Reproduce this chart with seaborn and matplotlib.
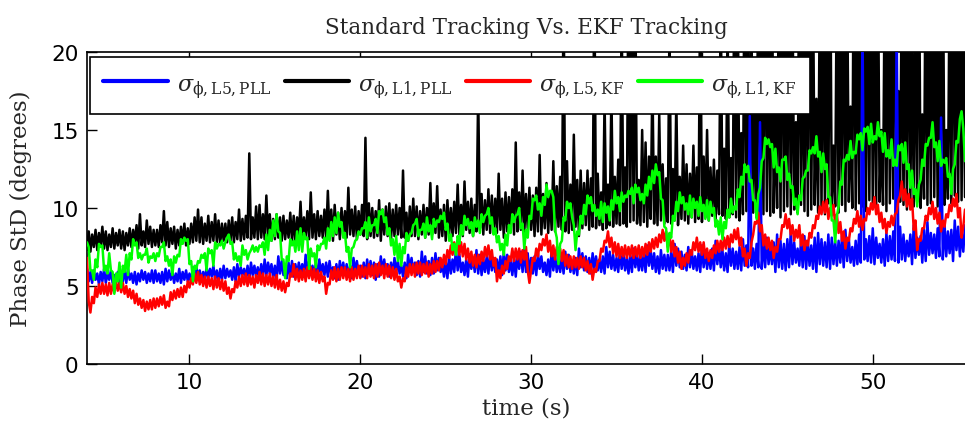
import numpy as np
import pandas as pd
import matplotlib
matplotlib.use("Agg")
import matplotlib.pyplot as plt
from matplotlib.lines import Line2D
import seaborn as sns

# Sampling of the phase-std estimates (seconds)
T0 = 4.0
DT = 0.1

# Phase standard deviation (degrees), one value per sample, 20 samples per row
sigma_l5_pll = [
    6.1, 5.3, 5.9, 5.2, 6.0, 5.4, 5.8, 5.1, 5.9, 5.3, 6.1, 5.2, 5.8, 5.4, 6.0, 5.2, 5.7, 5.3, 5.9, 5.1,
    5.9, 5.3, 6.0, 5.2, 6.1, 5.4, 5.8, 5.2, 5.9, 5.1, 5.8, 5.3, 6.0, 5.4, 5.9, 5.2, 5.8, 5.3, 6.0, 5.2,
    6.0, 5.3, 5.8, 5.2, 5.9, 5.1, 6.1, 5.3, 6.0, 5.4, 5.9, 5.2, 5.8, 5.3, 6.1, 5.2, 5.9, 5.4, 6.0, 5.3,
    5.8, 5.2, 6.2, 5.4, 6.3, 5.5, 6.0, 5.3, 5.9, 5.4, 6.2, 5.5, 6.1, 5.6, 6.3, 5.4, 6.0, 5.3, 6.1, 5.4,
    6.3, 5.5, 6.1, 5.6, 6.0, 5.4, 6.2, 5.3, 6.4, 5.6, 6.2, 5.7, 6.1, 5.5, 6.3, 5.4, 6.5, 5.7, 6.3, 5.6,
    6.2, 5.5, 6.4, 5.6, 6.7, 5.7, 6.5, 5.8, 6.4, 5.5, 6.3, 5.4, 6.9, 5.8, 6.6, 5.7, 6.3, 5.5, 6.5, 5.6,
    6.6, 5.6, 6.4, 5.7, 6.5, 5.8, 6.4, 5.6, 7.0, 5.9, 6.6, 5.8, 6.3, 5.6, 6.5, 5.5, 6.7, 5.8, 6.4, 5.7,
    6.5, 5.6, 6.6, 5.7, 6.2, 5.5, 6.4, 5.4, 6.6, 5.8, 6.5, 5.7, 6.4, 5.6, 6.3, 5.5, 6.8, 5.9, 6.6, 5.8,
    6.3, 5.6, 6.5, 5.5, 6.7, 5.8, 6.6, 5.7, 6.5, 5.4, 6.4, 5.6, 6.9, 5.9, 6.7, 5.8, 6.4, 5.6, 6.5, 5.7,
    6.8, 5.9, 6.6, 5.8, 6.3, 5.6, 6.5, 5.5, 7.0, 6.0, 6.8, 5.9, 6.5, 5.7, 6.6, 5.6, 7.2, 5.9, 6.9, 5.8,
    6.6, 5.7, 6.8, 5.8, 7.1, 6.0, 6.8, 5.9, 6.4, 5.6, 6.6, 5.5, 6.9, 5.8, 6.7, 5.9, 7.4, 6.0, 7.0, 5.9,
    6.5, 5.7, 6.7, 5.6, 7.0, 6.1, 6.8, 5.9, 7.3, 5.8, 7.0, 5.7, 6.7, 5.9, 6.9, 5.8, 7.1, 6.0, 6.8, 5.9,
    6.7, 5.8, 6.9, 5.7, 7.2, 6.0, 7.0, 5.9, 6.6, 5.7, 6.8, 5.6, 7.0, 6.1, 7.2, 5.9, 7.4, 5.9, 7.1, 5.8,
    6.8, 5.8, 6.9, 5.7, 7.1, 6.1, 6.9, 5.9, 6.5, 5.7, 6.7, 5.6, 7.3, 6.0, 7.0, 5.9, 6.7, 5.9, 6.9, 5.8,
    7.2, 6.1, 7.0, 5.9, 6.6, 5.8, 6.8, 5.7, 7.4, 6.2, 7.1, 6.0, 6.9, 5.9, 6.8, 5.8, 7.1, 6.1, 6.9, 6.0,
    6.7, 5.9, 6.9, 5.8, 7.5, 6.2, 7.2, 6.1, 7.0, 6.0, 6.8, 5.9, 7.3, 6.1, 7.1, 6.0, 6.8, 5.8, 7.0, 5.9,
    7.4, 6.2, 7.1, 6.0, 6.9, 6.0, 7.2, 5.9, 7.6, 6.3, 7.3, 6.1, 7.1, 5.9, 6.9, 5.8, 7.3, 6.1, 7.0, 6.0,
    7.0, 6.0, 7.2, 5.9, 7.7, 6.3, 7.4, 6.2, 7.2, 6.1, 7.0, 6.0, 7.5, 6.2, 7.3, 6.1, 6.9, 6.0, 7.1, 5.9,
    7.6, 6.2, 7.3, 6.1, 7.1, 6.1, 7.4, 6.0, 7.9, 6.4, 7.6, 6.2, 7.3, 6.0, 7.1, 5.9, 7.7, 6.3, 7.4, 6.1,
    7.2, 6.1, 7.5, 6.0, 8.0, 6.3, 7.6, 6.2, 15.9, 6.3, 7.4, 6.1, 7.7, 6.2, 15.5, 6.1, 7.9, 6.2, 8.1, 6.4,
    7.5, 6.4, 7.8, 5.9, 8.3, 6.2, 7.9, 6.1, 7.7, 6.0, 8.0, 6.2, 8.5, 6.4, 7.8, 6.5, 7.4, 6.3, 7.9, 6.2,
    8.2, 6.1, 7.9, 6.3, 7.6, 6.1, 8.1, 5.9, 8.4, 6.4, 8.0, 6.3, 7.8, 6.2, 8.3, 6.1, 8.1, 6.4, 7.9, 6.3,
    7.9, 6.5, 8.2, 6.2, 8.6, 6.6, 8.0, 6.5, 7.5, 6.3, 7.9, 6.4, 8.3, 6.5, 22.0, 6.7, 8.0, 6.6, 8.2, 6.5,
    8.7, 6.4, 8.1, 6.8, 7.7, 6.5, 8.0, 6.3, 8.4, 6.6, 8.2, 6.7, 8.5, 6.6, 22.0, 6.5, 8.8, 6.7, 8.3, 6.6,
    7.9, 6.9, 8.3, 6.4, 8.9, 6.8, 8.1, 7.0, 8.2, 6.5, 8.6, 6.6, 9.1, 7.0, 8.4, 7.1, 8.3, 6.8, 8.7, 6.9,
    15.8, 6.7, 9.0, 6.9, 8.5, 7.1, 8.6, 6.6, 9.2, 7.3, 8.8, 6.9, 8.5, 7.2, 8.9,
]

sigma_l1_pll = [
    7.3, 8.5, 7.2, 8.3, 7.5, 8.6, 7.3, 8.4, 7.6, 8.8, 7.4, 8.5, 7.3, 8.3, 7.5, 8.7, 7.4, 8.4, 7.6, 8.6,
    7.4, 8.5, 7.3, 8.4, 7.6, 8.7, 7.5, 8.6, 7.8, 8.9, 7.4, 9.6, 7.6, 8.5, 7.5, 9.2, 7.7, 8.8, 7.5, 8.6,
    7.6, 8.6, 7.5, 8.9, 7.8, 9.8, 7.6, 9.1, 7.5, 8.7, 7.7, 8.8, 7.4, 8.6, 7.6, 8.8, 7.8, 9.0, 7.6, 8.7,
    7.7, 9.0, 7.8, 9.4, 7.9, 9.9, 7.8, 9.4, 7.7, 9.0, 7.9, 9.5, 7.8, 9.1, 7.9, 9.6, 7.8, 9.2, 7.7, 9.0,
    7.9, 9.0, 7.8, 9.2, 7.9, 9.4, 7.8, 9.1, 8.0, 9.9, 7.9, 9.3, 8.0, 9.5, 8.1, 13.5, 8.0, 9.4, 8.1, 10.1,
    8.0, 10.2, 8.1, 9.6, 8.0, 10.8, 8.2, 9.6, 7.9, 9.3, 8.0, 9.6, 8.1, 9.4, 7.9, 9.5, 8.0, 9.2, 8.1, 9.7,
    7.9, 9.5, 7.8, 9.4, 8.1, 10.4, 7.9, 9.4, 8.2, 9.8, 8.0, 11.0, 8.1, 9.6, 8.0, 9.8, 8.2, 9.5, 8.1, 9.9,
    8.1, 11.1, 8.2, 9.9, 7.9, 10.2, 8.3, 9.7, 8.0, 10.0, 8.2, 9.8, 8.1, 11.3, 8.3, 9.9, 8.2, 10.1, 8.0, 9.8,
    8.3, 10.2, 8.2, 14.5, 8.0, 10.3, 8.2, 10.0, 8.1, 9.8, 8.2, 10.5, 7.9, 9.9, 8.3, 10.1, 8.2, 10.3, 8.0, 9.9,
    8.2, 10.2, 8.3, 10.0, 8.1, 12.4, 8.1, 9.7, 7.9, 10.1, 8.2, 10.6, 8.2, 10.1, 8.0, 9.8, 8.3, 10.2, 8.1, 10.0,
    8.3, 11.6, 8.3, 10.3, 8.4, 11.4, 8.1, 9.9, 8.2, 10.2, 7.9, 10.5, 8.3, 10.0, 8.2, 10.4, 8.4, 11.5, 8.3, 10.2,
    8.2, 11.7, 8.6, 10.4, 8.4, 10.6, 8.2, 10.2, 8.5, 17.5, 8.7, 10.9, 8.3, 10.5, 8.6, 11.2, 8.4, 10.8, 8.5, 10.6,
    8.4, 12.2, 8.6, 10.6, 8.1, 11.0, 8.5, 10.7, 8.6, 11.2, 8.3, 14.2, 8.5, 11.0, 8.6, 12.4, 8.4, 10.9, 8.7, 11.3,
    8.6, 10.8, 8.2, 11.3, 8.5, 13.4, 8.3, 10.9, 8.7, 11.6, 8.4, 11.0, 8.6, 13.0, 8.5, 11.4, 8.8, 12.0, 8.6, 24.0,
    8.5, 13.0, 8.4, 11.5, 8.6, 14.7, 8.8, 11.8, 8.2, 12.4, 8.7, 11.6, 8.9, 12.4, 8.6, 11.9, 8.8, 25.0, 8.7, 12.2,
    8.9, 11.0, 8.6, 17.0, 8.7, 11.5, 8.9, 17.5, 8.8, 12.0, 9.0, 13.1, 8.9, 23.0, 9.0, 12.6, 8.8, 26.0, 9.1, 24.0,
    9.2, 24.0, 9.0, 11.8, 8.9, 15.0, 9.1, 14.2, 8.8, 13.3, 9.3, 18.5, 9.0, 13.3, 8.9, 16.0, 9.2, 12.8, 9.0, 11.9,
    9.1, 22.0, 9.0, 12.5, 9.2, 17.0, 8.9, 12.0, 9.3, 14.0, 9.2, 12.8, 9.0, 12.2, 9.4, 14.0, 9.1, 12.6, 9.3, 25.0,
    9.1, 13.3, 9.4, 15.0, 9.2, 12.6, 9.5, 13.1, 9.3, 12.4, 9.6, 24.0, 9.5, 13.8, 9.3, 22.0, 9.4, 13.2, 9.6, 26.0,
    9.4, 23.0, 9.2, 14.8, 9.6, 28.0, 9.8, 25.0, 9.5, 22.0, 9.7, 18.0, 9.4, 27.0, 9.9, 24.0, 9.6, 30.0, 9.8, 23.0,
    9.5, 26.0, 9.7, 16.0, 10.0, 25.0, 9.4, 29.0, 9.8, 22.0, 10.1, 27.0, 9.6, 24.0, 9.9, 15.5, 9.7, 28.0, 10.2, 23.0,
    9.8, 26.0, 9.5, 30.0, 9.9, 25.0, 10.2, 17.0, 9.7, 24.0, 10.0, 27.0, 9.6, 22.0, 10.3, 29.0, 9.9, 14.0, 10.1, 26.0,
    9.7, 23.0, 10.2, 28.0, 9.8, 25.0, 10.4, 16.5, 10.0, 30.0, 9.9, 24.0, 10.3, 27.0, 10.1, 22.0, 9.8, 26.0, 10.5, 29.0,
    10.1, 24.0, 9.9, 27.0, 10.4, 15.0, 10.2, 25.0, 9.8, 28.0, 10.3, 23.0, 10.6, 30.0, 10.0, 17.5, 10.4, 26.0, 10.2, 24.0,
    9.9, 28.0, 10.5, 22.0, 10.1, 25.0, 10.4, 29.0, 10.0, 16.0, 10.6, 27.0, 10.2, 24.0, 10.3, 30.0, 10.7, 23.0, 10.1, 26.0,
    10.4, 28.0, 10.2, 15.0, 10.6, 25.0, 10.3, 29.0, 10.8, 22.0, 10.4, 27.0, 10.5, 24.0, 10.7,
]

sigma_l5_kf = [
    6.8, 4.0, 3.3, 4.3, 3.9, 4.9, 4.3, 5.1, 4.5, 5.2, 4.5, 5.1, 4.4, 5.2, 4.5, 5.1, 4.6, 5.3, 4.7, 5.2,
    4.6, 5.2, 4.5, 5.0, 4.3, 4.8, 4.2, 4.7, 3.9, 4.5, 3.8, 4.2, 3.6, 4.1, 3.4, 4.0, 3.5, 4.1, 3.5, 4.2,
    3.6, 4.2, 3.7, 4.3, 3.8, 4.4, 3.6, 4.0, 3.7, 4.6, 4.1, 4.7, 4.2, 4.8, 4.3, 4.9, 4.3, 5.0, 4.6, 5.3,
    4.9, 5.5, 5.1, 5.8, 5.2, 5.9, 5.1, 5.7, 5.0, 5.6, 4.9, 5.6, 5.0, 5.5, 4.8, 5.6, 4.9, 5.5, 4.8, 5.4,
    4.7, 5.3, 4.5, 4.9, 4.2, 4.8, 4.6, 5.3, 4.9, 5.6, 5.0, 5.7, 5.1, 5.8, 5.0, 5.7, 5.1, 5.6, 4.9, 5.7,
    5.2, 5.9, 5.1, 5.8, 5.0, 5.7, 5.1, 5.8, 5.0, 5.6, 4.9, 5.7, 4.8, 5.4, 4.7, 5.3, 4.6, 5.2, 5.0, 5.8,
    5.6, 6.4, 5.4, 6.1, 5.3, 6.0, 5.4, 6.1, 5.3, 6.2, 5.5, 6.2, 5.4, 6.1, 5.3, 6.0, 5.2, 5.9, 5.3, 5.6,
    4.5, 5.2, 5.1, 6.0, 5.4, 6.2, 5.3, 6.1, 5.4, 6.2, 5.5, 6.2, 5.4, 6.1, 5.3, 6.2, 5.4, 6.1, 5.5, 6.3,
    5.5, 6.3, 5.6, 6.2, 5.5, 6.4, 5.6, 6.3, 5.5, 6.4, 5.6, 6.5, 5.7, 6.3, 5.5, 6.4, 5.6, 6.3, 5.5, 6.2,
    5.4, 6.1, 5.3, 5.6, 4.9, 5.5, 5.3, 6.2, 5.6, 6.4, 5.7, 6.4, 5.6, 6.5, 5.8, 6.5, 5.7, 6.4, 5.8, 6.5,
    5.6, 6.4, 5.8, 6.6, 5.9, 6.6, 6.0, 6.8, 6.2, 7.0, 6.4, 7.3, 6.8, 7.6, 7.0, 7.8, 7.1, 7.9, 7.0, 7.8,
    6.9, 7.7, 6.7, 7.4, 6.5, 7.2, 6.3, 7.0, 6.2, 7.0, 6.4, 7.2, 6.6, 7.5, 6.9, 7.6, 6.7, 7.3, 6.3, 6.8,
    5.3, 6.0, 5.5, 6.3, 5.8, 6.6, 6.1, 6.9, 6.6, 7.4, 6.6, 7.4, 6.7, 7.4, 6.5, 7.3, 6.7, 7.5, 6.0, 5.2,
    6.0, 6.8, 6.6, 7.4, 6.9, 7.7, 7.3, 8.0, 7.6, 8.3, 7.2, 7.9, 6.9, 7.6, 6.7, 7.5, 6.8, 7.4, 6.6, 7.3,
    6.3, 7.0, 6.2, 6.9, 6.1, 6.9, 6.2, 6.8, 6.1, 6.9, 6.2, 6.8, 6.0, 6.6, 5.8, 6.4, 5.4, 6.1, 5.9, 6.6,
    6.6, 7.4, 7.2, 7.9, 7.8, 8.5, 7.5, 8.1, 7.1, 7.8, 6.9, 7.7, 6.8, 7.5, 6.9, 7.6, 6.8, 7.5, 6.9, 7.6,
    6.8, 7.5, 6.9, 7.6, 6.8, 7.5, 6.9, 7.7, 7.0, 7.8, 7.2, 8.0, 7.4, 8.1, 7.5, 8.3, 7.8, 8.6, 7.9, 8.5,
    7.5, 8.3, 7.2, 7.9, 6.9, 7.5, 6.5, 7.2, 6.1, 6.8, 6.3, 7.1, 6.5, 7.3, 7.0, 7.8, 7.3, 8.1, 7.2, 7.8,
    7.0, 7.8, 6.8, 7.4, 6.6, 7.3, 6.8, 7.6, 7.1, 7.9, 7.2, 7.9, 7.3, 8.1, 7.4, 8.2, 7.5, 8.3, 7.8, 8.6,
    8.0, 8.7, 7.6, 8.1, 6.9, 7.4, 6.3, 7.1, 6.8, 7.8, 8.3, 9.1, 9.0, 9.7, 8.5, 8.9, 7.6, 8.3, 7.4, 8.1,
    7.3, 7.9, 6.8, 7.5, 7.2, 8.0, 8.0, 8.9, 8.8, 9.6, 8.7, 9.3, 8.3, 8.9, 7.9, 8.6, 8.1, 8.9, 7.6, 8.3,
    7.3, 7.9, 7.6, 8.4, 8.1, 8.9, 8.7, 9.5, 9.3, 10.1, 9.6, 10.4, 9.7, 10.5, 9.3, 10.0, 9.5, 10.2, 8.9, 9.6,
    8.4, 9.1, 7.9, 8.5, 7.4, 8.1, 7.9, 8.7, 8.5, 9.3, 9.0, 9.8, 8.8, 9.5, 8.6, 9.3, 9.2, 10.0, 9.6, 10.3,
    9.9, 10.7, 9.6, 10.2, 9.1, 9.7, 8.7, 9.3, 8.4, 9.1, 8.8, 9.5, 8.9, 9.6, 9.7, 10.5, 10.8, 11.7, 10.5, 11.2,
    10.1, 10.9, 9.9, 10.6, 8.6, 9.2, 7.3, 8.0, 7.9, 8.7, 8.7, 9.5, 9.2, 10.0, 9.6, 10.4, 9.3, 10.0, 9.0, 9.7,
    8.5, 9.2, 8.8, 9.6, 9.4, 10.2, 9.8, 10.6, 10.1, 10.9, 9.4, 10.0, 8.1, 8.8, 9.9,
]

sigma_l1_kf = [
    7.8, 7.5, 6.0, 6.0, 5.4, 6.7, 6.2, 7.7, 7.5, 7.6, 6.0, 6.3, 5.8, 7.1, 6.0, 5.9, 4.5, 5.8, 5.3, 6.5,
    4.9, 6.3, 5.9, 7.0, 5.7, 7.1, 6.7, 8.0, 7.6, 7.8, 6.8, 7.1, 6.7, 7.0, 7.0, 7.4, 6.5, 6.9, 6.8, 7.1,
    6.6, 7.1, 6.9, 7.5, 7.5, 7.8, 6.6, 6.9, 6.3, 6.7, 5.7, 6.9, 6.5, 7.0, 6.9, 8.0, 7.7, 8.1, 7.9, 8.0,
    6.4, 6.6, 5.3, 6.3, 6.1, 6.6, 6.5, 7.0, 6.8, 7.1, 6.0, 7.4, 7.1, 7.3, 6.3, 7.8, 7.4, 7.7, 7.6, 7.9,
    7.4, 7.8, 8.1, 8.3, 7.7, 7.8, 6.7, 7.1, 6.6, 6.9, 6.3, 7.6, 7.0, 7.3, 6.7, 7.1, 7.3, 7.6, 7.2, 7.5,
    7.2, 7.6, 7.5, 7.8, 7.0, 8.3, 7.3, 8.6, 7.9, 9.2, 8.2, 9.6, 8.5, 8.4, 6.7, 6.7, 5.5, 6.9, 6.6, 8.0,
    7.6, 7.9, 7.2, 8.5, 7.3, 8.7, 7.2, 8.4, 8.0, 8.1, 6.1, 7.4, 6.9, 7.1, 6.2, 7.6, 7.3, 7.7, 7.7, 8.1,
    7.4, 8.7, 7.9, 9.1, 8.2, 9.4, 8.4, 9.7, 8.8, 9.1, 8.1, 8.4, 7.2, 7.5, 6.2, 7.4, 7.5, 7.9, 8.0, 8.5,
    8.3, 8.7, 8.7, 9.1, 8.1, 9.4, 8.5, 8.9, 8.9, 9.3, 8.4, 9.8, 9.6, 9.9, 9.1, 9.4, 8.3, 8.7, 7.6, 8.0,
    7.0, 8.2, 6.6, 7.7, 6.3, 7.5, 7.1, 8.4, 7.9, 8.3, 8.4, 8.9, 9.0, 9.3, 8.2, 8.6, 8.6, 9.0, 8.1, 9.4,
    8.5, 8.9, 8.0, 9.3, 8.8, 9.2, 9.1, 9.5, 9.3, 9.7, 8.6, 9.0, 7.9, 8.3, 7.3, 7.7, 7.0, 8.2, 7.7, 8.9,
    8.3, 9.5, 8.9, 9.3, 8.7, 9.1, 8.2, 9.4, 8.8, 9.2, 8.4, 9.6, 9.1, 9.5, 9.6, 10.0, 9.0, 9.4, 8.3, 8.7,
    7.8, 8.2, 7.3, 7.7, 7.0, 8.3, 7.6, 8.9, 8.4, 9.6, 9.1, 9.5, 9.6, 10.0, 8.7, 9.0, 7.4, 8.6, 8.1, 9.5,
    9.3, 10.6, 10.5, 10.8, 9.9, 10.3, 9.5, 10.7, 10.2, 11.5, 10.7, 11.1, 11.1, 10.7, 8.6, 8.1, 6.4, 7.7, 7.9, 9.4,
    9.2, 10.4, 10.0, 10.3, 9.4, 8.9, 7.3, 8.5, 8.3, 9.5, 9.0, 10.2, 9.6, 10.8, 10.3, 10.7, 9.8, 10.2, 9.5, 9.9,
    9.3, 10.4, 9.1, 10.3, 9.7, 10.1, 9.2, 10.5, 9.9, 11.1, 10.3, 10.7, 9.8, 11.0, 10.4, 10.8, 10.7, 11.1, 10.9, 11.3,
    10.3, 11.5, 11.0, 11.3, 10.5, 10.9, 10.3, 11.5, 10.8, 12.0, 11.2, 12.4, 11.6, 12.8, 12.1, 12.3, 10.6, 10.5, 8.8, 8.7,
    7.2, 8.4, 8.1, 9.5, 9.2, 10.4, 9.8, 11.0, 10.3, 10.7, 9.9, 10.3, 9.6, 10.8, 9.4, 10.6, 10.0, 10.4, 9.5, 10.7,
    9.8, 10.2, 9.3, 10.5, 9.2, 10.4, 9.7, 10.0, 8.8, 9.2, 8.3, 9.4, 8.0, 9.1, 8.7, 9.9, 9.4, 10.6, 9.7, 10.1,
    9.9, 11.2, 10.7, 12.0, 11.5, 12.8, 12.3, 12.7, 11.7, 11.8, 10.5, 10.5, 9.3, 10.9, 11.3, 13.0, 13.2, 14.5, 14.1, 14.4,
    13.9, 14.1, 12.6, 13.8, 12.3, 12.6, 11.7, 13.1, 13.1, 13.3, 11.8, 12.2, 11.3, 11.4, 10.2, 10.6, 9.6, 10.8, 10.5, 11.9,
    12.0, 12.4, 12.4, 13.7, 13.5, 13.9, 13.5, 14.6, 13.3, 13.6, 12.3, 13.5, 12.5, 12.8, 10.7, 10.7, 9.2, 9.2, 7.8, 9.5,
    10.1, 11.7, 11.5, 13.1, 13.0, 13.4, 13.1, 14.3, 13.2, 13.6, 13.5, 14.7, 14.4, 14.8, 13.7, 15.1, 14.9, 15.2, 14.1, 15.4,
    14.2, 14.6, 14.4, 15.5, 14.6, 14.9, 13.6, 14.8, 13.3, 13.7, 13.2, 14.4, 12.7, 13.1, 12.7, 14.0, 13.7, 14.1, 12.9, 14.2,
    12.5, 12.8, 11.3, 12.4, 10.9, 11.2, 10.1, 11.5, 11.8, 13.1, 12.7, 14.1, 14.0, 14.5, 14.5, 15.5, 13.9, 14.2, 13.0, 14.3,
    12.7, 13.1, 12.9, 13.2, 12.0, 12.2, 10.9, 12.5, 12.8, 14.3, 14.2, 15.7, 16.2, 15.1, 13.0,
]

series_names = ["L5 PLL", "L1 PLL", "L5 KF", "L1 KF"]
series_values = [sigma_l5_pll, sigma_l1_pll, sigma_l5_kf, sigma_l1_kf]
series_colors = ["#0000ff", "#000000", "#ff0000", "#00ff00"]
legend_labels = [
    r"$\sigma_{\mathrm{\phi,L5,PLL}}$",
    r"$\sigma_{\mathrm{\phi,L1,PLL}}$",
    r"$\sigma_{\mathrm{\phi,L5,KF}}$",
    r"$\sigma_{\mathrm{\phi,L1,KF}}$",
]
x_ticks = [10, 20, 30, 40, 50]
y_ticks = [0, 5, 10, 15, 20]

frames = []
for name, vals in zip(series_names, series_values):
    frames.append(pd.DataFrame({
        "time": T0 + DT * np.arange(len(vals)),
        "std": vals,
        "signal": name,
    }))
df = pd.concat(frames, ignore_index=True)

sns.set_theme(style="ticks")
plt.rcParams["font.family"] = ["DejaVu Serif", "DejaVu Sans"]
plt.rcParams["mathtext.fontset"] = "dejavuserif"

fig = plt.figure(figsize=(9.65, 4.31), dpi=100)
ax = fig.add_axes([87 / 965, 1 - 365 / 431, 1 - 87 / 965, (365 - 53) / 431])

# draw order: L1 PLL underneath, then L5 PLL, L5 KF, L1 KF on top
draw_order = [1, 0, 2, 3]
for z, i in enumerate(draw_order):
    sub = df[df["signal"] == series_names[i]]
    sns.lineplot(data=sub, x="time", y="std", ax=ax, color=series_colors[i],
                 linewidth=1.8, estimator=None, legend=False, zorder=2 + z)

ax.set_xlim(4.0, 55.4)
ax.set_ylim(0, 20)
ax.set_xticks(x_ticks)
ax.set_yticks(y_ticks)
ax.tick_params(direction="in", length=7, width=1, top=True, right=False,
               labelsize=15.5, pad=6, colors="black")
for lab in ax.get_xticklabels() + ax.get_yticklabels():
    lab.set_family(["DejaVu Sans"])
for side in ["left", "bottom", "top"]:
    ax.spines[side].set_linewidth(1.2)
    ax.spines[side].set_color("black")
ax.spines["right"].set_visible(False)

ax.set_title("Standard Tracking Vs. EKF Tracking", fontsize=15.5, pad=14)
ax.set_xlabel("time (s)", fontsize=16.5, labelpad=3)
ax.set_ylabel("Phase StD (degrees)", fontsize=16.5, labelpad=14)

handles = [Line2D([0], [0], color=c, linewidth=3) for c in series_colors]
leg = ax.legend(handles, legend_labels, loc="upper left", ncol=4,
                bbox_to_anchor=(0.0034, 0.984), fontsize=16, frameon=True,
                fancybox=False, framealpha=1, edgecolor="black",
                handlelength=2.9, handleheight=1.5, handletextpad=0.4,
                columnspacing=0.6, borderpad=0.6, borderaxespad=0)
leg.get_frame().set_linewidth(1.2)
leg.set_zorder(10)

fig.savefig("out.png", dpi=100)
